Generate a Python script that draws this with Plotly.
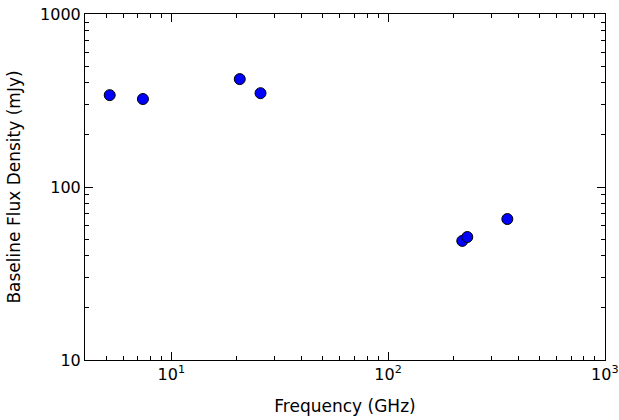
import plotly.graph_objects as go

freq_ghz = [5.2, 7.4, 20.7, 25.8, 220, 232, 355]
flux_mjy = [340, 323, 421, 349, 48.8, 51.4, 65.3]

x_ticks = [10, 100, 1000]
x_labels = ["10<sup>1</sup>", "10<sup>2</sup>", "10<sup>3</sup>"]
y_ticks = [10, 100, 1000]
y_labels = ["10", "100", "1000"]

fig = go.Figure()
fig.add_trace(go.Scatter(
    x=freq_ghz, y=flux_mjy, mode="markers",
    marker=dict(size=11, color="#0000ff", line=dict(color="black", width=1)),
    cliponaxis=False,
))

axis_style = dict(
    type="log", showgrid=False, zeroline=False, mirror="allticks",
    showline=True, linecolor="black", linewidth=1, automargin=False,
    ticks="inside", ticklen=8, tickwidth=1, tickcolor="black",
    minor=dict(ticks="inside", ticklen=4, tickcolor="black", dtick="D1", showgrid=False),
    tickfont=dict(size=16, color="black"), ticklabeloverflow="allow",
    title_font=dict(size=17, color="black"),
)

fig.update_xaxes(axis_style, range=[0.602, 3.0008], tickvals=x_ticks, ticktext=x_labels,
                 title_text="Frequency (GHz)", title_standoff=16)
fig.update_yaxes(axis_style, range=[0.9995, 3.0008], tickvals=y_ticks, ticktext=y_labels,
                 title_text="Baseline Flux Density (mJy)", title_standoff=15)

fig.update_layout(
    width=619, height=420, showlegend=False,
    margin=dict(l=85, r=14, t=14, b=60, autoexpand=False),
    plot_bgcolor="white", paper_bgcolor="white",
    font=dict(family="DejaVu Sans", color="black"),
)

# drop the page's default 8px body margin so the figure sits in the corner
fig.write_html("out.html", config={"displayModeBar": False},
               post_script="document.body.style.margin='0';")
